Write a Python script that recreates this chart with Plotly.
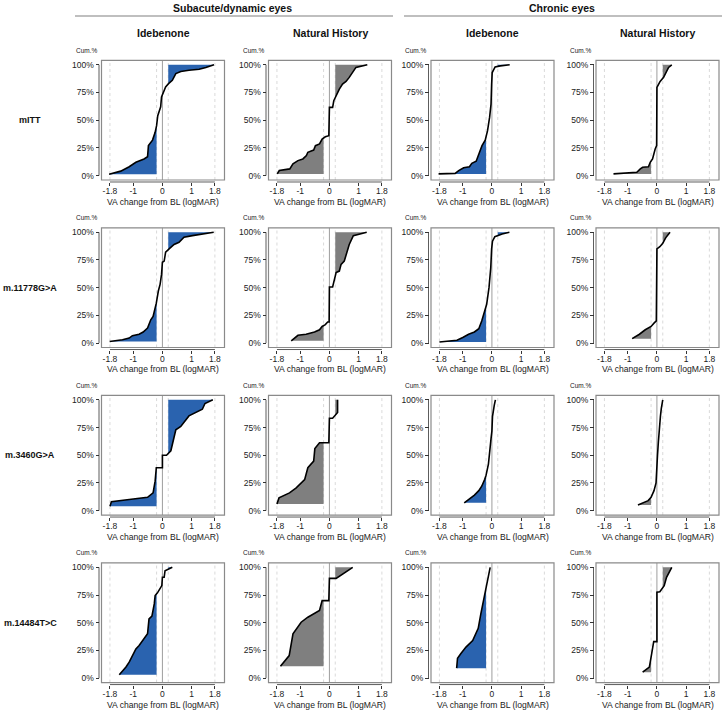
import plotly.graph_objects as go

W, H = 724, 711

# ---------------- data ----------------
group_titles = ["Subacute/dynamic eyes", "Chronic eyes"]
col_titles = ["Idebenone", "Natural History", "Idebenone", "Natural History"]
row_titles = ["mITT", "m.11778G>A", "m.3460G>A", "m.14484T>C"]
x_tickvals = [-1.8, -1, 0, 1, 1.8]
x_ticktext = ["-1.8", "-1", "0", "1", "1.8"]
y_tickvals = [0, 25, 50, 75, 100]
y_ticktext = ["0%", "25%", "50%", "75%", "100%"]
ref_dotted = [-1.8, -0.2, 0.2, 1.8]
ref_solid = [0]

# mITT
mitt_sub_ide_x = [-1.83, -1.43, -1.14, -0.91, -0.63, -0.51, -0.48, -0.34, -0.25, -0.20, -0.16, -0.06,
                  -0.03, 0.02, 0.11, 0.21, 0.34, 0.46, 0.63, 0.91, 1.26, 1.49, 1.77]
mitt_sub_ide_y = [1.2, 4, 8, 12, 15, 17, 27, 32, 39, 45, 54, 62, 71, 74, 80, 83, 86, 92, 94, 95, 96, 97.6, 100]
mitt_sub_nh_x = [-1.79, -1.72, -1.36, -1.25, -1.08, -0.91, -0.79, -0.74, -0.54, -0.48, -0.34, -0.25, -0.14,
                 -0.02, 0.0, 0.11, 0.15, 0.23, 0.34, 0.45, 0.57, 0.68, 0.82, 0.91, 1.3]
mitt_sub_nh_y = [1.5, 4.5, 6, 10.5, 13.5, 15, 18, 21, 23, 27, 28.5, 33, 35, 36, 61.5, 61.5, 67.5, 72, 78,
                 82.6, 85, 88.6, 94, 97.6, 100]
mitt_chr_ide_x = [-1.83, -1.26, -1.14, -0.97, -0.77, -0.69, -0.54, -0.46, -0.34, -0.23, -0.15, -0.08,
                  -0.03, -0.01, 0.01, 0.11, 0.29, 0.61]
mitt_chr_ide_y = [1.5, 2, 4.5, 7, 8, 11, 13, 18, 27, 32, 40.5, 52.5, 64.5, 82.5, 93, 98, 99, 100]
mitt_chr_nh_x = [-1.49, -0.69, -0.57, -0.49, -0.29, -0.23, -0.15, -0.11, -0.06, -0.01, 0.0, 0.06, 0.11,
                 0.23, 0.31, 0.40, 0.51]
mitt_chr_nh_y = [1.5, 3, 6, 7.5, 8, 12, 15, 19.5, 24, 27, 79.6, 82.6, 85, 88.6, 93, 97.6, 100]

# m.11778G>A
m11778_sub_ide_x = [-1.81, -1.37, -1.14, -1.03, -0.80, -0.66, -0.51, -0.40, -0.32, -0.27, -0.21, -0.14,
                    -0.08, -0.03, 0.0, 0.06, 0.11, 0.23, 0.40, 0.57, 0.74, 1.03, 1.49, 1.76]
m11778_sub_ide_y = [1.5, 3, 4.5, 6.7, 8, 10, 13.6, 21, 24, 29, 36, 47, 53, 62, 73, 74, 82, 85, 89, 91,
                    95.5, 97, 98.5, 100]
m11778_sub_nh_x = [-1.31, -1.20, -1.08, -0.80, -0.51, -0.34, -0.25, -0.14, -0.06, -0.01, 0.0, 0.11, 0.15,
                   0.23, 0.34, 0.40, 0.51, 0.57, 0.68, 0.82, 1.28]
m11778_sub_nh_y = [2, 4.5, 7, 8, 10, 12, 15, 16.7, 19, 19, 50.6, 50.6, 56, 63.6, 65, 71, 74, 80, 89, 97, 100]
m11778_chr_ide_x = [-1.80, -1.2, -1.0, -0.8, -0.6, -0.45, -0.35, -0.25, -0.18, -0.1, -0.04, -0.01, 0.02,
                    0.1, 0.35, 0.6]
m11778_chr_ide_y = [1, 2.5, 5, 8, 10, 13, 20, 28, 35, 50, 68, 85, 92, 96, 98.5, 100]
m11778_chr_nh_x = [-0.85, -0.6, -0.4, -0.2, -0.1, -0.02, 0.0, 0.1, 0.2, 0.3, 0.45]
m11778_chr_nh_y = [4, 8, 12, 15, 18, 20, 85, 87, 90, 95, 100]

# m.3460G>A
m3460_sub_ide_x = [-1.80, -1.75, -1.14, -0.51, -0.32, -0.25, -0.21, -0.11, 0.0, 0.0, 0.14, 0.29, 0.46,
                   0.63, 0.91, 1.37, 1.46, 1.73]
m3460_sub_ide_y = [4, 8, 10, 12, 16, 26.6, 38.7, 38.7, 38.7, 50, 50, 54, 73, 76, 85.5, 91.5, 96.7, 100]
m3460_sub_nh_x = [-1.80, -1.73, -1.37, -1.14, -0.85, -0.74, -0.54, -0.50, -0.34, -0.02, 0.0, 0.11, 0.28, 0.28]
m3460_sub_nh_y = [6, 11.5, 16, 20.5, 28, 38.7, 44.7, 56, 61.3, 61.3, 83.4, 83.4, 88.5, 100]
m3460_chr_ide_x = [-0.95, -0.8, -0.6, -0.45, -0.35, -0.25, -0.2, -0.12, -0.08, -0.03, 0.0, 0.02, 0.08, 0.12]
m3460_chr_ide_y = [7, 10, 14, 18, 22, 28, 32, 42, 55, 65, 72, 85, 95, 100]
m3460_chr_nh_x = [-0.65, -0.45, -0.3, -0.2, -0.1, -0.03, 0.0, 0.02, 0.05, 0.08, 0.12, 0.15, 0.2]
m3460_chr_nh_y = [5, 7, 9, 12, 18, 25, 35, 50, 62, 75, 85, 92, 100]

# m.14484T>C
m14484_sub_ide_x = [-1.48, -1.39, -1.25, -1.14, -1.05, -0.91, -0.80, -0.65, -0.51, -0.46, -0.36, -0.28,
                    -0.25, -0.17, -0.09, -0.02, 0.0, 0.06, 0.09, 0.34]
m14484_sub_ide_y = [3, 5.4, 10, 14.4, 19, 26.4, 29.4, 35.4, 40, 53.5, 56, 67, 74.5, 77, 80.5, 83.5, 91,
                    91, 97, 100]
m14484_sub_nh_x = [-1.68, -1.38, -1.25, -0.97, -0.74, -0.34, -0.25, -0.02, 0.0, 0.23, 0.80]
m14484_sub_nh_y = [10.8, 20.4, 40, 50.5, 55, 61, 70, 70, 90, 90, 100]
m14484_chr_ide_x = [-1.21, -1.18, -1.07, -0.89, -0.66, -0.47, -0.38, -0.29, -0.21, -0.15, -0.07, -0.06]
m14484_chr_ide_y = [9, 18, 22, 28, 34, 45, 58, 70, 80.5, 91, 98.5, 100]
m14484_chr_nh_x = [-0.49, -0.26, -0.21, -0.15, -0.11, 0.0, 0.0, 0.10, 0.25, 0.33, 0.51]
m14484_chr_nh_y = [5.4, 10, 17.4, 25, 33, 33, 77.5, 78, 83.5, 91, 100]

panels = [
    [(mitt_sub_ide_x, mitt_sub_ide_y), (mitt_sub_nh_x, mitt_sub_nh_y),
     (mitt_chr_ide_x, mitt_chr_ide_y), (mitt_chr_nh_x, mitt_chr_nh_y)],
    [(m11778_sub_ide_x, m11778_sub_ide_y), (m11778_sub_nh_x, m11778_sub_nh_y),
     (m11778_chr_ide_x, m11778_chr_ide_y), (m11778_chr_nh_x, m11778_chr_nh_y)],
    [(m3460_sub_ide_x, m3460_sub_ide_y), (m3460_sub_nh_x, m3460_sub_nh_y),
     (m3460_chr_ide_x, m3460_chr_ide_y), (m3460_chr_nh_x, m3460_chr_nh_y)],
    [(m14484_sub_ide_x, m14484_sub_ide_y), (m14484_sub_nh_x, m14484_sub_nh_y),
     (m14484_chr_ide_x, m14484_chr_ide_y), (m14484_chr_nh_x, m14484_chr_nh_y)],
]

# ---------------- styling ----------------
FONT = "Liberation Sans, Arial, Helvetica, sans-serif"
BLUE = "#2A63AF"
GREY = "#7F7F7F"
fill_colors = [BLUE, GREY, BLUE, GREY]
LEFT_T, RIGHT_T = -0.2, 0.2
XR = [-2.09, 2.13]
YR = [-4, 104]

col_left = [101.5, 268.5, 431, 596]
row_top = [59.5, 227.5, 395.5, 563.5]
BW, BH = 123, 120


def px2x(p):
    return p / W


def px2y(p):
    return 1 - p / H


def left_poly(xs, ys, t):
    if xs[0] >= t:
        return None
    px, py = [], []
    for i in range(len(xs)):
        if xs[i] <= t:
            px.append(xs[i]); py.append(ys[i])
        else:
            x0, y0, x1, y1 = xs[i - 1], ys[i - 1], xs[i], ys[i]
            yc = y0 + (y1 - y0) * (t - x0) / (x1 - x0) if x1 != x0 else y1
            px.append(t); py.append(yc)
            break
    px += [t, xs[0], xs[0]]
    py += [ys[0], ys[0], ys[0]]
    return px, py


def right_poly(xs, ys, t):
    if xs[-1] <= t:
        return None
    for i in range(len(xs)):
        if xs[i] > t:
            break
    if i == 0:
        yc = ys[0]
    else:
        x0, y0, x1, y1 = xs[i - 1], ys[i - 1], xs[i], ys[i]
        yc = y0 + (y1 - y0) * (t - x0) / (x1 - x0) if x1 != x0 else y1
    px = [t] + list(xs[i:]) + [t, t]
    py = [yc] + list(ys[i:]) + [ys[-1], yc]
    return px, py


fig = go.Figure()
shapes = []
annotations = []
layout = {}

k = 0
for r in range(4):
    for c in range(4):
        k += 1
        xs, ys = panels[r][c]
        xa = "x" if k == 1 else f"x{k}"
        ya = "y" if k == 1 else f"y{k}"
        L, T = col_left[c], row_top[r]
        B = T + BH
        xdom = [px2x(L), px2x(L + BW)]
        ydom = [px2y(B), px2y(T)]
        xpos = px2y(B + 2)
        ypos = px2x(L - 2.5)
        layout["xaxis" if k == 1 else f"xaxis{k}"] = dict(
            domain=xdom, range=XR, anchor="free", position=xpos,
            showgrid=False, zeroline=False, showline=False,
            ticks="outside", ticklen=3, tickwidth=0.8, tickcolor="#333",
            ticklabelstandoff=-2,
            tickvals=x_tickvals, ticktext=x_ticktext,
            tickfont=dict(family=FONT, size=8.5, color="#222"), fixedrange=True)
        layout["yaxis" if k == 1 else f"yaxis{k}"] = dict(
            domain=ydom, range=YR, anchor="free", position=ypos,
            showgrid=False, zeroline=False, showline=False,
            ticks="outside", ticklen=3.5, tickwidth=0.8, tickcolor="#333",
            tickvals=y_tickvals, ticktext=y_ticktext,
            tickfont=dict(family=FONT, size=8.5, color="#222"), fixedrange=True)

        # reference lines
        for v in ref_dotted:
            shapes.append(dict(type="line", xref=xa, yref=f"{ya} domain", x0=v, x1=v, y0=0, y1=1,
                               line=dict(color="#CACACA", width=0.7, dash="dot"), layer="below"))
        for v in ref_solid:
            shapes.append(dict(type="line", xref=xa, yref=f"{ya} domain", x0=v, x1=v, y0=0, y1=1,
                               line=dict(color="#9E9E9E", width=1), layer="below"))
        # box
        shapes.append(dict(type="rect", xref=f"{xa} domain", yref=f"{ya} domain", x0=0, x1=1, y0=0, y1=1,
                           line=dict(color="#8A8A8A", width=1.2), layer="above"))
        # axis lines
        shapes.append(dict(type="line", xref=xa, yref="paper", x0=x_tickvals[0], x1=x_tickvals[-1],
                           y0=xpos, y1=xpos, line=dict(color="#333", width=0.8)))
        shapes.append(dict(type="line", xref="paper", yref=ya, x0=ypos, x1=ypos,
                           y0=y_tickvals[0], y1=y_tickvals[-1], line=dict(color="#333", width=0.8)))

        # fills
        for poly in (left_poly(xs, ys, LEFT_T), right_poly(xs, ys, RIGHT_T)):
            if poly is None:
                continue
            fig.add_trace(go.Scatter(x=poly[0], y=poly[1], xaxis=xa, yaxis=ya, mode="lines",
                                     fill="toself", fillcolor=fill_colors[c],
                                     line=dict(width=0, color=fill_colors[c]),
                                     hoverinfo="skip", showlegend=False))
        # curve
        fig.add_trace(go.Scatter(x=xs, y=ys, xaxis=xa, yaxis=ya, mode="lines",
                                 line=dict(color="black", width=1.6),
                                 hoverinfo="skip", showlegend=False))

        # Cum.% label
        annotations.append(dict(text="Cum.%", x=px2x(L - 15), y=px2y(T - 10), xref="paper", yref="paper",
                                showarrow=False, xanchor="center", yanchor="middle",
                                font=dict(family=FONT, size=6.5, color="#222")))
        # x title
        annotations.append(dict(text="VA change from BL (logMAR)", x=px2x(L + BW / 2), y=px2y(B + 22),
                                xref="paper", yref="paper", showarrow=False,
                                xanchor="center", yanchor="middle",
                                font=dict(family=FONT, size=8.6, color="#222")))

# column titles
for c in range(4):
    annotations.append(dict(text=f"<b>{col_titles[c]}</b>", x=px2x(col_left[c] + BW / 2), y=px2y(32),
                            xref="paper", yref="paper", showarrow=False, xanchor="center", yanchor="middle",
                            font=dict(family=FONT, size=10.5, color="#111")))
# row titles
for r in range(4):
    annotations.append(dict(text=f"<b>{row_titles[r]}</b>", x=px2x(30), y=px2y(row_top[r] + BH / 2),
                            xref="paper", yref="paper", showarrow=False, xanchor="center", yanchor="middle",
                            font=dict(family=FONT, size=9, color="#111")))
# group titles and lines
group_centers = [232, 562]
group_lines = [(75, 393), (404, 722)]
for g in range(2):
    annotations.append(dict(text=f"<b>{group_titles[g]}</b>", x=px2x(group_centers[g]), y=px2y(7),
                            xref="paper", yref="paper", showarrow=False, xanchor="center", yanchor="middle",
                            font=dict(family=FONT, size=10.5, color="#111")))
    shapes.append(dict(type="line", xref="paper", yref="paper",
                       x0=px2x(group_lines[g][0]), x1=px2x(group_lines[g][1]), y0=px2y(15), y1=px2y(15),
                       line=dict(color="#AAAAAA", width=1.5)))

fig.update_layout(
    width=W, height=H, autosize=False,
    margin=dict(l=0, r=0, t=0, b=0, pad=0),
    paper_bgcolor="white", plot_bgcolor="white",
    showlegend=False, shapes=shapes, annotations=annotations,
    **layout)

fig.write_html("out.html", config={"displayModeBar": False},
               post_script="document.body.style.margin='0';document.body.style.overflow='hidden';")
